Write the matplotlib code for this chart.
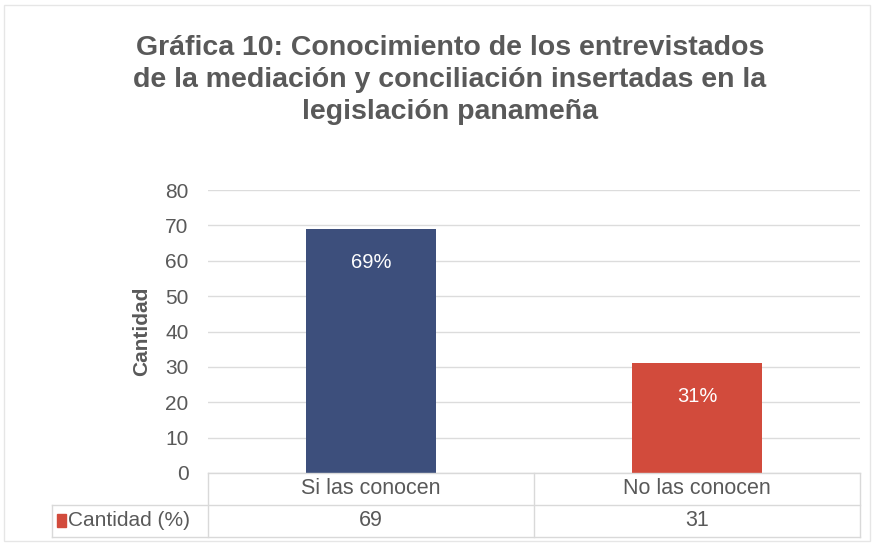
import matplotlib.pyplot as plt
from matplotlib.patches import Rectangle
from matplotlib.lines import Line2D

categorias = ['Si las conocen', 'No las conocen']
valores = [69, 31]
etiquetas = ['69%', '31%']
colores = ['#3d4f7c', '#d24b3c']
serie = 'Cantidad (%)'

plt.rcParams['font.family'] = ['Liberation Sans', 'DejaVu Sans']
gris = '#595959'

W, H = 877, 545
fig = plt.figure(figsize=(W / 100, H / 100), dpi=100)
fig.patch.set_facecolor('white')

# plot area in pixels
x0, x1 = 208, 860
y_top, y_bot = 190, 473
ax = fig.add_axes([x0 / W, (H - y_bot) / H, (x1 - x0) / W, (y_bot - y_top) / H])

pos = list(range(len(categorias)))
bars = ax.bar(pos, valores, width=0.4, color=colores, zorder=3)
for b, txt in zip(bars, etiquetas):
    ax.text(b.get_x() + b.get_width() / 2, b.get_height() - 9.5, txt,
            ha='center', va='center', color='white', fontsize=14.5, zorder=4)

ax.set_xlim(-0.5, len(categorias) - 0.5)
ax.set_ylim(0, 80)
ax.set_yticks(range(0, 81, 10))
ax.tick_params(axis='y', length=0, labelsize=15, labelcolor=gris, pad=14)
ax.set_xticks([])
ax.grid(axis='y', color='#dcdcdc', linewidth=1, zorder=0)
for s in ax.spines.values():
    s.set_visible(False)
ax.set_ylabel('Cantidad', fontsize=15, fontweight='bold', color=gris, labelpad=10)

# data table below the axis
lc = '#d9d9d9'
tl, tr = 52, 860
r0, r1, r2 = 473, 505, 537
def fx(p):
    return p / W
def fy(p):
    return 1 - p / H
fig.add_artist(Line2D([fx(x0), fx(tr)], [fy(r0), fy(r0)], color=lc, lw=1))
fig.add_artist(Line2D([fx(tl), fx(tr)], [fy(r1), fy(r1)], color=lc, lw=1))
fig.add_artist(Line2D([fx(tl), fx(tr)], [fy(r2), fy(r2)], color=lc, lw=1))
fig.add_artist(Line2D([fx(tl), fx(tl)], [fy(r1), fy(r2)], color=lc, lw=1))
colw = (x1 - x0) / len(categorias)
for i in range(len(categorias) + 1):
    xx = x0 + i * colw
    fig.add_artist(Line2D([fx(xx), fx(xx)], [fy(r0), fy(r2)], color=lc, lw=1))
for i, (c, v) in enumerate(zip(categorias, valores)):
    cx = fx(x0 + (i + 0.5) * colw)
    fig.text(cx, fy((r0 + r1) / 2), c, ha='center', va='center', fontsize=15.5, color=gris)
    fig.text(cx, fy((r1 + r2) / 2), str(v), ha='center', va='center', fontsize=15.5, color=gris)
fig.add_artist(Rectangle((fx(57), fy(527)), 9 / W, 13 / H, color=colores[1]))
fig.text(fx(68), fy((r1 + r2) / 2), serie, ha='left', va='center', fontsize=15, color=gris)

fig.text(0.513, fy(80), 'Gráfica 10: Conocimiento de los entrevistados\n'
         'de la mediación y conciliación insertadas en la\nlegislación panameña',
         ha='center', va='center', fontsize=20.5, fontweight='bold', color=gris,
         linespacing=1.3)

fig.add_artist(Rectangle((fx(4), fy(541)), 866 / W, 536 / H, fill=False,
                         edgecolor='#e6e6e6', lw=1))

fig.savefig('out.png', dpi=100)
